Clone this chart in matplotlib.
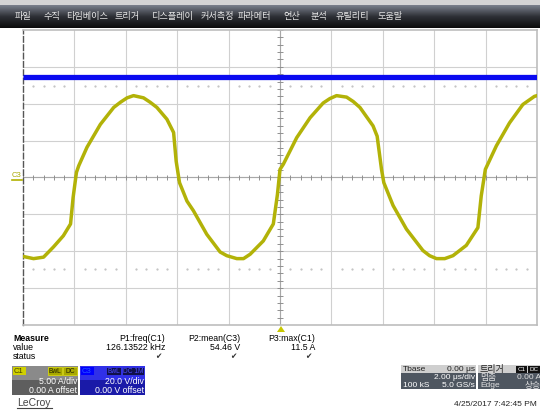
import matplotlib
matplotlib.use("Agg")
import matplotlib.pyplot as plt
from matplotlib.patches import Rectangle, Polygon
import numpy as np

plt.rcParams['font.family'] = ['Liberation Sans', 'Noto Sans CJK KR', 'DejaVu Sans']

# C1 current trace (time in us, current in A)
c1_time = [-10.0, -9.59, -9.20, -8.81, -8.43, -8.15, -8.05, -7.92, -7.83, -7.51,
           -6.99, -6.47, -6.21, -5.95, -5.70, -5.31, -5.05, -4.79, -4.40, -4.14,
           -4.04, -3.91, -3.62, -3.37, -2.85, -2.33, -2.07, -1.68, -1.42, -1.16,
           -0.65, -0.26, -0.10, 0.0, 0.13, 0.65, 1.17, 1.68, 1.94, 2.20,
           2.59, 2.85, 3.11, 3.62, 3.78, 3.95, 4.04, 4.40, 4.92, 5.56,
           5.82, 6.09, 6.41, 6.73, 7.25, 7.70, 7.83, 7.99, 8.42, 8.93,
           9.45, 9.90, 10.0]
c1_amps = [-10.7, -11.0, -10.8, -9.4, -7.9, -6.3, -2.7, 0.7, 1.6, 4.1,
           7.2, 9.5, 10.2, 10.8, 11.1, 10.8, 10.2, 9.5, 7.9, 6.1,
           2.2, -0.7, -3.2, -4.5, -7.7, -10.1, -10.6, -11.0, -11.0, -10.4,
           -8.6, -6.3, -2.3, 1.1, 1.8, 5.4, 8.1, 10.1, 10.7, 11.1,
           10.9, 10.3, 9.5, 7.0, 5.6, 1.1, -0.7, -3.8, -7.0, -9.9,
           -10.6, -11.0, -11.0, -10.6, -9.2, -6.8, -2.5, 1.1, 4.3, 7.4,
           9.9, 11.0, 11.1]

# C3 voltage trace (flat)
c3_time = [-10.0, 10.0]
c3_volts = [54.46, 54.46]

amps_per_div = 5.0
volts_per_div = 20.0
level_marks = [2.48, -2.48]

menu_labels = ['파일', '수직', '타임베이스', '트리거', '디스플레이', '커서측정',
               '파라메터', '연산', '분석', '유틸리티', '도움말']
menu_x = [15, 43, 66, 115, 151, 201, 238, 283, 311, 336, 378]

W, H = 540, 411
fig = plt.figure(figsize=(W / 100, H / 100), dpi=100)
fig.patch.set_facecolor('white')

# scope screen
ax = fig.add_axes([23 / W, 1 - 325 / H, (537 - 23) / W, (325 - 30) / H])
ax.set_xlim(-10, 10)
ax.set_ylim(-4, 4)
ax.set_xticks([])
ax.set_yticks([])

for xv in range(-8, 10, 2):
    ax.axvline(xv, color='#d0d0d0', lw=0.8, zorder=1)
for yv in range(-3, 4):
    ax.axhline(yv, color='#d0d0d0', lw=0.8, zorder=1)
ax.axvline(0, color='#a8a8a8', lw=0.8, zorder=1)
ax.axhline(0, color='#a8a8a8', lw=0.8, zorder=1)

# minor ticks on the centre lines
minor_x = np.arange(-10, 10.01, 0.4)
minor_y = np.arange(-4, 4.01, 0.2)
ax.vlines(minor_x, -0.07, 0.07, color='#909090', lw=0.7, zorder=1)
ax.hlines(minor_y, -0.12, 0.12, color='#909090', lw=0.7, zorder=1)

# dotted level marks
dot_x = [x for x in minor_x if abs(x / 2 - round(x / 2)) > 1e-6]
for lv in level_marks:
    ax.plot(dot_x, [lv] * len(dot_x), ls='none', marker='s', ms=0.6,
            color='#c4c4c4', zorder=1)

ax.plot(c3_time, np.array(c3_volts) / volts_per_div, color='#0a0af0', lw=3.8,
        zorder=3, solid_capstyle='butt')
ax.plot(c1_time, np.array(c1_amps) / amps_per_div, color='#b2b208', lw=2.5,
        zorder=4, solid_joinstyle='round')

for side in ['top', 'bottom', 'right']:
    ax.spines[side].set_color('#bdbdbd')
    ax.spines[side].set_linewidth(1.2)
ax.spines['left'].set_color('#555555')
ax.spines['left'].set_linestyle((0, (4, 2)))
ax.spines['left'].set_linewidth(1.0)

# overlay in pixel coordinates for the scope's chrome
ov = fig.add_axes([0, 0, 1, 1], facecolor='none')
ov.set_xlim(0, W)
ov.set_ylim(H, 0)
ov.axis('off')

ov.add_patch(Rectangle((0, 0), W, 5, color='#d4d4d4', lw=0))
grad = np.linspace(0, 1, 50).reshape(-1, 1)
ov.imshow(grad, cmap=matplotlib.colors.LinearSegmentedColormap.from_list(
    'bar', ['#7a808c', '#2e3036', '#0c0c0c']), extent=(0, W, 28, 5),
    aspect='auto', zorder=1)
for lbl, xm in zip(menu_labels, menu_x):
    ov.text(xm, 17, lbl, color='#e6e6e6', fontsize=6.6, va='center', ha='left')

# channel marker on the left and trigger marker
ov.text(12, 175, 'C3', color='#a8a800', fontsize=5.5, va='center', ha='left')
ov.plot([12, 22], [180, 180], color='#b2b200', lw=1.2)
ov.add_patch(Polygon([[277, 332], [285, 332], [281, 326]], closed=True,
                     color='#c8c800', lw=0))

# measurement table
fs = 6.3
ov.text(13, 338, 'Measure', fontsize=fs, fontweight='bold', va='center')
ov.text(13, 347, 'value', fontsize=fs, va='center')
ov.text(13, 356, 'status', fontsize=fs, va='center')
meas = [('P1:freq(C1)', '126.13522 kHz', 165),
        ('P2:mean(C3)', '54.46 V', 240),
        ('P3:max(C1)', '11.5 A', 315)]
for name, val, xr in meas:
    ov.text(xr, 338, name, fontsize=fs, ha='right', va='center')
    ov.text(xr, 347, val, fontsize=fs, ha='right', va='center')
    ov.text(xr - 4, 356, '✔', fontsize=5.5, ha='right', va='center',
            color='#333333', family='DejaVu Sans')

# C1 box
ov.add_patch(Rectangle((12, 366), 66, 14, color='#8a8a8a', lw=0))
ov.add_patch(Rectangle((12, 380), 66, 15, color='#5e5e5e', lw=0))
ov.add_patch(Rectangle((13, 367), 13, 8, color='#d0d000', lw=0))
ov.text(14, 371.5, 'C1', fontsize=5.5, color='#404000', va='center')
ov.add_patch(Rectangle((48, 367), 14, 8, facecolor='#a8a800', edgecolor='#e0e000', lw=0.5))
ov.text(55, 371.5, 'BwL', fontsize=4.8, color='#202000', va='center', ha='center')
ov.add_patch(Rectangle((63, 367), 14, 8, facecolor='#a8a800', edgecolor='#e0e000', lw=0.5))
ov.text(70, 371.5, 'DC', fontsize=4.8, color='#202000', va='center', ha='center')
ov.text(77, 381, '5.00 A/div', fontsize=6.3, color='white', ha='right', va='center')
ov.text(77, 390, '0.00 A offset', fontsize=6.3, color='white', ha='right', va='center')

# C3 box
ov.add_patch(Rectangle((80, 366), 65, 14, color='#3030e8', lw=0))
ov.add_patch(Rectangle((80, 380), 65, 15, color='#1a1aa8', lw=0))
ov.add_patch(Rectangle((81, 367), 13, 8, color='#0000ff', lw=0))
ov.text(82, 371.5, 'C3', fontsize=5.5, color='#2a5cff', va='center')
ov.add_patch(Rectangle((106, 367), 15, 8, facecolor='#10104a', edgecolor='#3a3aff', lw=0.5))
ov.text(113.5, 371.5, 'BwL', fontsize=4.8, color='#4a4aff', va='center', ha='center')
ov.add_patch(Rectangle((122, 367), 22, 8, facecolor='#10104a', edgecolor='#3a3aff', lw=0.5))
ov.text(133, 371.5, 'DC 1M', fontsize=4.8, color='#4a4aff', va='center', ha='center')
ov.text(144, 381, '20.0 V/div', fontsize=6.3, color='white', ha='right', va='center')
ov.text(144, 390, '0.00 V offset', fontsize=6.3, color='white', ha='right', va='center')

ov.text(17, 403, 'LeCroy', fontsize=7.5, color='#444444', va='center')
ov.plot([17, 52], [408, 408], color='#444444', lw=0.8)

# timebase box
ov.add_patch(Rectangle((401, 365), 75, 8, color='#cfcfcf', lw=0))
ov.add_patch(Rectangle((401, 373), 75, 16, color='#4e5660', lw=0))
ov.text(403, 369, 'Tbase', fontsize=6, color='#222222', va='center')
ov.text(475, 369, '0.00 μs', fontsize=6, color='#222222', va='center', ha='right')
ov.text(475, 377.5, '2.00 μs/div', fontsize=6, color='white', va='center', ha='right')
ov.text(403, 385.5, '100 kS', fontsize=6, color='white', va='center')
ov.text(475, 385.5, '5.0 GS/s', fontsize=6, color='white', va='center', ha='right')

# trigger box
ov.add_patch(Rectangle((478, 365), 62, 8, color='#cfcfcf', lw=0))
ov.add_patch(Rectangle((478, 373), 62, 16, color='#4e5660', lw=0))
ov.text(480, 369, '트리거', fontsize=6.5, color='#222222', va='center')
ov.add_patch(Rectangle((516, 366), 11, 6.5, color='#111111', lw=0))
ov.text(521.5, 369.2, 'C1', fontsize=4.5, color='white', va='center', ha='center')
ov.add_patch(Rectangle((528, 366), 12, 6.5, color='#111111', lw=0))
ov.text(534, 369.2, 'DC', fontsize=4.5, color='white', va='center', ha='center')
ov.text(480, 377.5, '멈춤', fontsize=6.3, color='#e0e0e0', va='center')
ov.text(541, 377.5, '0.00 A', fontsize=6, color='#e0e0e0', va='center', ha='right')
ov.text(480, 385.5, 'Edge', fontsize=6, color='#e0e0e0', va='center')
ov.text(541, 385.5, '상승', fontsize=6.3, color='#e0e0e0', va='center', ha='right')

ov.text(537, 404, '4/25/2017 7:42:45 PM', fontsize=6, color='#222222', va='center', ha='right')

fig.savefig('out.png', dpi=100)
